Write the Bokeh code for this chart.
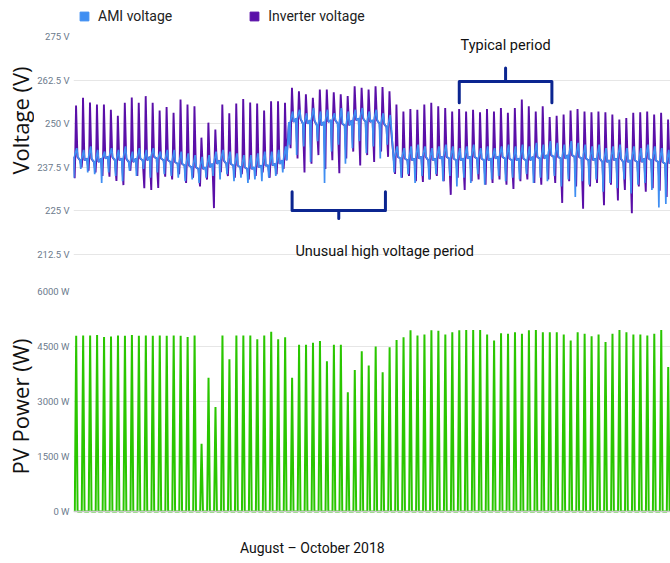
import math

from bokeh.plotting import figure
from bokeh.layouts import column, row
from bokeh.models import Range1d, FixedTicker, Legend, LegendItem, Label, Span
from bokeh.embed import file_html
from bokeh.resources import INLINE

# ---------------------------------------------------------------------------
# Daily readings, 1 August – 25 October 2018 (one entry per day)
# ---------------------------------------------------------------------------
days = list(range(86))

# PV output, daily peak (W)
pv_peak_w = [
    4790, 4800, 4800, 4810, 4760, 4770, 4800, 4790, 4810, 4790, 4800, 4790, 4800, 4790,
    4800, 4790, 4760, 4800, 1850, 3650, 2850, 4800, 4150, 4800, 4800, 4800, 4700, 4800,
    4900, 4700, 4750, 3650, 4550, 4550, 4600, 4650, 4100, 4550, 4550, 3250, 3860, 4370,
    3980, 4500, 3800, 4480, 4680, 4750, 4940, 4800, 4830, 4940, 4930, 4830, 4890, 4940,
    4950, 4950, 4950, 4830, 4660, 4860, 4850, 4890, 4850, 4940, 4950, 4890, 4890, 4890,
    4830, 4660, 4890, 4850, 4780, 4830, 4620, 4850, 4950, 4890, 4830, 4830, 4800, 4850,
    4950, 3940,
]

# Inverter terminal voltage: midday peak and daily dip (V)
inv_peak_v = [
    255.2, 257.4, 256.1, 255.5, 255.5, 254.0, 252.3, 256.0, 257.5, 256.0, 257.9, 256.0,
    253.8, 254.8, 253.1, 256.9, 255.5, 255.0, 246.0, 250.3, 248.3,
    255.5, 253.0, 255.8, 257.1, 256.1, 255.8, 253.8, 256.4, 256.4, 256.0, 260.3, 259.3,
    258.4, 257.4, 259.8, 259.8, 259.0, 258.4, 257.9, 260.7, 260.3, 259.8,
    260.7, 260.5, 259.3, 255.5, 253.5, 254.2, 254.0, 255.5, 256.0, 255.0, 254.5, 253.5,
    254.2, 253.5, 254.0, 253.3, 254.2, 253.5, 254.5, 253.1, 254.5,
    256.9, 255.0, 253.5, 255.0, 251.9, 252.3, 252.6, 253.8, 254.2, 253.5, 253.3, 253.5,
    253.3, 252.6, 251.2, 251.6, 253.1, 253.3, 253.5, 252.6, 253.1, 251.2,
]
inv_low_v = [
    234.4, 237.5, 236.5, 236.0, 235.0, 234.8, 233.6, 232.4, 236.5, 235.0, 231.5, 231.0,
    231.6, 234.8, 234.0, 235.5, 233.0, 234.5, 232.0, 234.0, 225.8,
    236.1, 235.0, 234.5, 235.5, 234.0, 235.0, 236.0, 234.5, 235.5, 237.0,
    243.0, 240.0, 236.0, 238.5, 241.0, 237.0, 239.5, 235.8, 240.0, 242.0, 238.0, 241.0,
    239.0, 242.0, 240.5,
    235.6, 234.5, 235.0, 233.5, 233.3, 234.0, 235.0, 233.5, 229.6, 234.5, 231.0, 233.5,
    234.0, 232.5, 233.0, 234.0, 232.5, 231.3,
    233.5, 234.0, 233.0, 232.5, 234.0, 233.0, 227.3, 233.5, 232.0, 225.6, 232.0, 233.0,
    226.6, 232.5, 228.0, 231.0, 224.3, 232.0, 230.5, 231.5, 230.8, 229.0,
]

# AMI meter voltage: overnight level, midday high and daily dip (V)
ami_base_v = [
    240.5, 239.5, 240.0, 239.0, 240.0, 240.5, 239.5, 240.0, 239.0, 240.0, 239.5, 240.5,
    240.0, 239.5, 239.0, 238.5, 238.0, 237.5, 237.0, 237.5, 238.5,
    239.5, 238.5, 238.0, 237.5, 237.0, 237.5, 238.0, 238.0, 238.5, 239.5,
    250.5, 251.5, 250.0, 251.0, 249.5, 250.5, 251.0, 250.0, 249.5, 251.0, 251.5, 250.5,
    251.0, 250.0, 249.0,
    240.5, 240.0, 239.5, 240.0, 240.5, 239.5, 240.0, 240.5, 240.0, 239.5, 240.0, 240.5,
    240.0, 239.5, 240.0, 240.5, 240.0, 239.5,
    240.0, 239.5, 240.5, 240.0, 241.0, 240.5, 240.0, 241.0, 240.5, 240.0, 239.5, 240.0,
    239.0, 239.5, 240.0, 239.0, 239.5, 239.0, 240.0, 239.5, 239.0, 238.5,
]
ami_peak_v = [
    243.0, 242.5, 243.5, 242.5, 242.0, 243.0, 242.5, 243.5, 242.0, 243.0, 242.5, 243.0,
    242.0, 242.5, 242.5, 242.0, 241.5, 241.0, 240.5, 241.0, 242.0,
    242.5, 242.0, 241.5, 241.0, 241.0, 241.5, 242.0, 242.0, 242.5, 243.5,
    253.5, 254.0, 253.0, 254.5, 253.5, 254.0, 253.0, 254.5, 253.5, 254.0, 254.5, 253.5,
    254.0, 253.0, 252.5,
    243.5, 243.0, 243.5, 244.0, 243.5, 243.0, 243.5, 244.0, 243.5, 243.0, 243.5, 244.0,
    243.0, 243.5, 243.0, 243.5, 244.0, 243.5,
    244.0, 243.5, 244.5, 244.0, 245.0, 244.5, 244.0, 245.0, 244.5, 244.0, 243.5, 244.0,
    243.0, 243.5, 244.0, 243.0, 243.5, 243.0, 244.0, 243.5, 243.0, 242.5,
]
ami_low_v = [
    234.5, 237.0, 236.0, 235.5, 233.0, 236.0, 235.0, 233.5, 236.5, 235.0, 237.0, 234.5,
    236.0, 235.5, 235.0, 234.5, 233.5, 234.0, 233.0, 234.5, 235.0,
    234.0, 235.5, 233.5, 234.5, 233.0, 234.0, 233.5, 234.5, 235.0, 236.0,
    244.0, 241.0, 243.5, 239.0, 245.0, 233.0, 242.0, 244.0, 238.5, 243.0, 245.0, 241.5,
    243.5, 240.0, 244.0,
    236.0, 234.5, 235.5, 233.0, 235.0, 234.0, 235.5, 233.5, 235.0, 232.0, 234.5, 233.0,
    235.5, 232.5, 234.0, 235.0, 233.5, 234.5,
    234.0, 235.5, 233.0, 234.5, 233.5, 235.0, 232.0, 234.0, 229.0, 233.5, 232.5, 234.0,
    230.5, 233.0, 231.5, 234.0, 230.0, 232.5, 233.0, 231.0, 226.0, 227.0,
]

# Axis ticks
volt_ticks = [212.5, 225, 237.5, 250, 262.5, 275]
volt_tick_labels = ["212.5 V", "225 V", "237.5 V", "250 V", "262.5 V", "275 V"]
pv_ticks = [0, 1500, 3000, 4500, 6000]
pv_tick_labels = ["0 W", "1500 W", "3000 W", "4500 W", "6000 W"]

# Highlighted periods (day index span) for the bracket annotations
typical_period = (55.5, 68.8)
unusual_period = (31.5, 44.9)

AMI_BLUE = "#3f8ef2"
INV_PURPLE = "#5a0fa8"
PV_GREEN = "#2ac600"
BRACKET = "#0b2590"
GRID = "#e6e6e6"
FONT = "Roboto"

# ---------------------------------------------------------------------------
# Build the sub-daily traces from the daily readings
# ---------------------------------------------------------------------------
inv_x, inv_y, ami_x, ami_y, pv_x, pv_y = [], [], [], [], [], []
for i in days:
    base = ami_base_v[i]
    inv_x += [i + 0.06, i + 0.28, i + 0.36, i + 0.48, i + 0.68]
    inv_y += [base, inv_low_v[i], base, inv_peak_v[i], base]
    ami_x += [i + 0.04, i + 0.16, i + 0.24, i + 0.58, i + 0.74]
    ami_y += [base, ami_low_v[i], base, ami_peak_v[i], base]
    pv_x += [i + 0.30, i + 0.50, i + 0.70]
    pv_y += [0, pv_peak_w[i], 0]

x_range = Range1d(0.114, 0.114 + 600 / 7)


def style_y_axis(p, ticks, labels, grid_ticks):
    ax = p.yaxis[0]
    ax.ticker = FixedTicker(ticks=ticks)
    ax.major_label_overrides = {t: l for t, l in zip(ticks, labels)}
    ax.axis_line_color = None
    ax.major_tick_line_color = None
    ax.minor_tick_line_color = None
    ax.major_tick_out = 0
    ax.major_tick_in = 0
    ax.minor_tick_out = 0
    ax.minor_tick_in = 0
    ax.axis_label_standoff = 0
    ax.major_label_text_font = FONT
    ax.major_label_text_font_size = "9.5px"
    ax.major_label_text_color = "#6b7a8c"
    ax.major_label_standoff = 4
    p.ygrid.ticker = FixedTicker(ticks=grid_ticks)
    p.ygrid.grid_line_color = GRID
    p.xgrid.visible = False
    p.xaxis.visible = False
    p.outline_line_color = None


def note(p, x, y, text, size="15px"):
    p.add_layout(Label(x=x, y=y, text=text, text_align="center", text_baseline="middle",
                       text_font=FONT, text_font_size=size, text_color="#111111"))


def bracket(p, span, y_bar, y_tip, y_mid):
    x0, x1 = span
    xc = (x0 + x1) / 2
    half = (x1 - x0) * 0.035
    xs = [x0, x0, xc - half, xc, xc, xc, xc + half, x1, x1]
    ys = [y_tip, y_bar, y_bar, y_bar, y_mid, y_bar, y_bar, y_bar, y_tip]
    p.line(xs, ys, line_color=BRACKET, line_width=3, line_join="round", line_cap="round")
    return xc


TITLE_W = 34
PANEL_W = 670 - TITLE_W
AXIS_W = 70 - TITLE_W

# ---------------------------------------------------------------------------
# Voltage panel (legend sits in the headroom above 275 V)
# ---------------------------------------------------------------------------
volt = figure(
    width=PANEL_W, height=266, x_range=x_range, y_range=Range1d(209.06, 285.32),
    output_backend="svg", toolbar_location=None,
    min_border_left=AXIS_W, min_border_right=0, min_border_top=0, min_border_bottom=0,
)
style_y_axis(volt, volt_ticks, volt_tick_labels, volt_ticks[:-1])

volt.line(inv_x, inv_y, line_color=INV_PURPLE, line_width=1.9)
volt.line(ami_x, ami_y, line_color=AMI_BLUE, line_width=1.7)

# hidden single-point markers that give the legend its square swatches
ami_key = volt.scatter(x=days[:1], y=ami_base_v[:1], marker="square", size=9,
                       color=AMI_BLUE, visible=False)
inv_key = volt.scatter(x=days[:1], y=ami_base_v[:1], marker="square", size=9,
                       color=INV_PURPLE, visible=False)
legend = Legend(
    items=[LegendItem(label="AMI voltage", renderers=[ami_key]),
           LegendItem(label="Inverter voltage", renderers=[inv_key])],
    orientation="horizontal", location="top_left", click_policy="none",
    glyph_width=22, glyph_height=32, label_standoff=3, spacing=71,
    margin=0, padding=0, border_line_color=None, background_fill_alpha=0,
    inactive_fill_alpha=0,
    label_text_font=FONT, label_text_font_size="14px", label_text_color="#222222",
)
volt.add_layout(legend)

xc_typ = bracket(volt, typical_period, 262.1, 256.0, 266.0)
xc_unu = bracket(volt, unusual_period, 225.1, 230.5, 222.8)
note(volt, xc_typ, 272.4, "Typical period", size="14.5px")
note(volt, xc_unu + 6.6, 213.4, "Unusual high voltage period", size="14.5px")

# ---------------------------------------------------------------------------
# PV power panel (caption sits in the space below 0 W)
# ---------------------------------------------------------------------------
power = figure(
    width=PANEL_W, height=297, x_range=x_range, y_range=Range1d(-1418.2, 6681.8),
    output_backend="svg", toolbar_location=None,
    min_border_left=AXIS_W, min_border_right=0, min_border_top=0, min_border_bottom=0,
)
style_y_axis(power, pv_ticks, pv_tick_labels, pv_ticks[1:-1])
power.add_layout(Span(location=0, dimension="width", line_color="#c8c8c8", line_width=1.5))

power.line(pv_x, pv_y, line_color=PV_GREEN, line_width=2)

note(power, 34.4, -1009, "August \u2013 October 2018", size="14px")

# ---------------------------------------------------------------------------
# Strip on the left carrying the two rotated axis titles (pixel units)
# ---------------------------------------------------------------------------
titles = figure(
    width=TITLE_W, height=563, x_range=Range1d(0, TITLE_W), y_range=Range1d(563, 0),
    output_backend="svg", toolbar_location=None, min_border=0,
)
titles.axis.visible = False
titles.grid.visible = False
titles.outline_line_color = None
for text, y_mid in (("Voltage (V)", 120), ("PV Power (W)", 406)):
    titles.add_layout(Label(x=19, y=y_mid, text=text, angle=math.pi / 2,
                            text_align="center", text_baseline="middle",
                            text_font="Open Sans", text_font_size="22px",
                            text_color="#111111"))

layout = row(titles, column(volt, power, spacing=0), spacing=0)
open("out.html", "w").write(file_html(layout, INLINE))
